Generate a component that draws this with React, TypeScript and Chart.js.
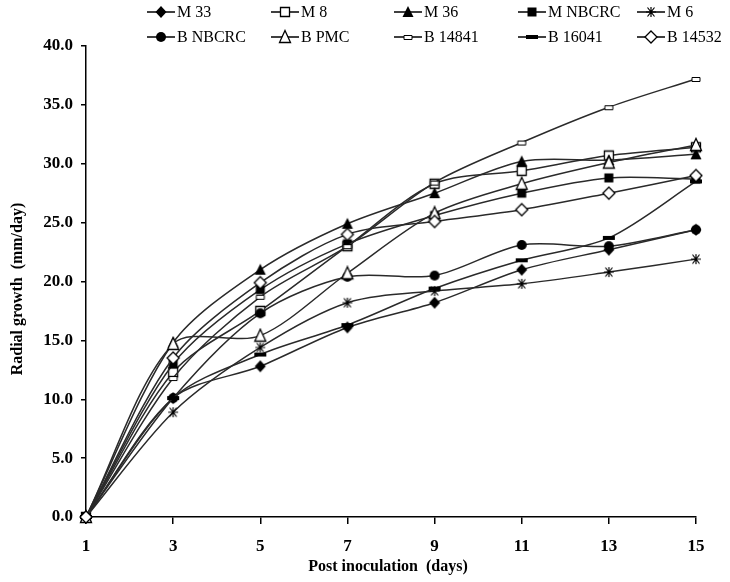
import React, { useEffect, useRef } from 'react';
import { Chart, registerables } from 'chart.js';
Chart.register(...registerables);

const days = ['1', '3', '5', '7', '9', '11', '13', '15'];
const seriesNames = ['M 33', 'M 8', 'M 36', 'M NBCRC', 'M 6', 'B NBCRC', 'B PMC', 'B 14841', 'B 16041', 'B 14532'];
const m33 = [0, 10.1, 12.8, 16.1, 18.2, 21.0, 22.7, 24.4];
const m8 = [0, 12.3, 17.5, 23.0, 28.3, 29.4, 30.7, 31.4];
const m36 = [0, 14.8, 21.0, 24.9, 27.5, 30.2, 30.3, 30.8];
const mNbcrc = [0, 13.0, 19.3, 23.2, 25.6, 27.5, 28.8, 28.7];
const m6 = [0, 8.9, 14.4, 18.2, 19.2, 19.8, 20.8, 21.9];
const bNbcrc = [0, 10.1, 17.3, 20.4, 20.5, 23.1, 23.0, 24.4];
const bPmc = [0, 14.7, 15.4, 20.7, 25.8, 28.3, 30.1, 31.6];
const b14841 = [0, 11.8, 18.7, 23.0, 28.4, 31.8, 34.8, 37.2];
const b16041 = [0, 10.1, 13.8, 16.3, 19.4, 21.8, 23.7, 28.5];
const b14532 = [0, 13.5, 19.9, 24.0, 25.1, 26.1, 27.5, 29.0];
const markerKinds = ['diamondFilled', 'squareOpen', 'triangleFilled', 'squareFilled', 'star', 'circleFilled', 'triangleOpen', 'smallRect', 'thickDash', 'diamondOpen'];
const allSeries = [m33, m8, m36, mNbcrc, m6, bNbcrc, bPmc, b14841, b16041, b14532];

const FONT = '"Liberation Serif", "Times New Roman", serif';

function makeMarker(kind: string): HTMLCanvasElement {
  const c = document.createElement('canvas');
  c.width = 16;
  c.height = 16;
  const g = c.getContext('2d')!;
  g.lineWidth = 1.3;
  g.strokeStyle = '#000';
  g.fillStyle = '#000';
  const cx = 8, cy = 8;
  g.beginPath();
  switch (kind) {
    case 'diamondFilled':
      g.moveTo(cx, cy - 6); g.lineTo(cx + 5.5, cy); g.lineTo(cx, cy + 6); g.lineTo(cx - 5.5, cy); g.closePath();
      g.fill();
      break;
    case 'diamondOpen':
      g.moveTo(cx, cy - 6); g.lineTo(cx + 6, cy); g.lineTo(cx, cy + 6); g.lineTo(cx - 6, cy); g.closePath();
      g.fillStyle = '#fff'; g.fill(); g.stroke();
      break;
    case 'squareOpen':
      g.rect(cx - 4.5, cy - 4.5, 9, 9);
      g.fillStyle = '#fff'; g.fill(); g.stroke();
      break;
    case 'squareFilled':
      g.rect(cx - 4.5, cy - 4.5, 9, 9);
      g.fill();
      break;
    case 'triangleFilled':
      g.moveTo(cx, cy - 6); g.lineTo(cx + 5.5, cy + 5); g.lineTo(cx - 5.5, cy + 5); g.closePath();
      g.fill();
      break;
    case 'triangleOpen':
      g.moveTo(cx, cy - 6.5); g.lineTo(cx + 5.5, cy + 5.5); g.lineTo(cx - 5.5, cy + 5.5); g.closePath();
      g.fillStyle = '#fff'; g.fill(); g.stroke();
      break;
    case 'circleFilled':
      g.arc(cx, cy, 5, 0, Math.PI * 2);
      g.fill();
      break;
    case 'star':
      g.lineWidth = 1.2;
      g.moveTo(cx - 5, cy); g.lineTo(cx + 5, cy);
      g.moveTo(cx - 3.5, cy - 4.5); g.lineTo(cx + 3.5, cy + 4.5);
      g.moveTo(cx + 3.5, cy - 4.5); g.lineTo(cx - 3.5, cy + 4.5);
      g.moveTo(cx, cy - 5); g.lineTo(cx, cy + 5);
      g.stroke();
      break;
    case 'smallRect':
      g.lineWidth = 1;
      g.rect(cx - 4, cy - 1.5, 8, 4);
      g.fillStyle = '#fff'; g.fill(); g.stroke();
      break;
    case 'thickDash':
      g.rect(cx - 6, cy - 2, 12, 4);
      g.fill();
      break;
  }
  return c;
}

export default function App() {
  const ref = useRef<HTMLCanvasElement | null>(null);
  useEffect(() => {
    if (!ref.current) return;
    const markers = markerKinds.map(makeMarker);
    const overlay = {
      id: 'overlay',
      afterDraw(chart: any) {
        const ctx = chart.ctx as CanvasRenderingContext2D;
        ctx.save();
        const xs = [147, 271, 394, 518, 637];
        const ys = [12, 37];
        ctx.font = `16px ${FONT}`;
        ctx.textBaseline = 'middle';
        ctx.textAlign = 'left';
        seriesNames.forEach((name, i) => {
          const x0 = xs[i % 5];
          const y = ys[Math.floor(i / 5)];
          ctx.strokeStyle = '#000';
          ctx.lineWidth = 1.5;
          ctx.beginPath();
          ctx.moveTo(x0, y);
          ctx.lineTo(x0 + 28, y);
          ctx.stroke();
          const m = markers[i];
          ctx.drawImage(m, x0 + 14 - m.width / 2, y - m.height / 2);
          ctx.fillStyle = '#000';
          ctx.fillText(name, x0 + 30, y + 1);
        });
        ctx.font = `bold 16px ${FONT}`;
        ctx.textAlign = 'center';
        ctx.fillText('Post inoculation  (days)', 388, 567);
        ctx.translate(18, 289);
        ctx.rotate(-Math.PI / 2);
        ctx.fillText('Radial growth  (mm/day)', 0, 0);
        ctx.restore();
      },
    };
    const tickFont = { family: FONT, size: 17, weight: 'bold' as const };
    const chart = new Chart(ref.current, {
      type: 'line',
      data: {
        labels: days,
        datasets: allSeries.map((d, i) => ({
          label: seriesNames[i],
          data: d,
          borderColor: '#2a2a2a',
          borderWidth: 1.5,
          pointStyle: markers[i] as any,
          pointRadius: 6,
          tension: 0.3,
          fill: false,
          clip: false as any,
          order: 10 - i,
        })),
      },
      options: {
        responsive: false,
        animation: false,
        events: [],
        layout: { padding: { left: 0, top: 46, right: 34, bottom: 0 } },
        plugins: { legend: { display: false }, tooltip: { enabled: false }, title: { display: false } },
        scales: {
          x: {
            type: 'category',
            offset: false,
            grid: { display: true, drawOnChartArea: false, drawTicks: true, tickLength: 7, color: '#000', lineWidth: 1.5 },
            border: { display: true, color: '#000', width: 1.5 },
            ticks: { color: '#000', font: tickFont, padding: 12, maxRotation: 0, autoSkip: false },
            afterFit: (s: any) => { s.height = 65; },
          },
          y: {
            min: 0,
            max: 40,
            grid: { display: true, drawOnChartArea: false, drawTicks: true, tickLength: 5, color: '#000', lineWidth: 1.5 },
            border: { display: true, color: '#000', width: 1.5 },
            ticks: { stepSize: 5, color: '#000', font: tickFont, padding: 8, callback: (v: any) => Number(v).toFixed(1) },
            afterFit: (s: any) => { s.width = 86; },
          },
        },
      },
      plugins: [overlay],
    });
    return () => chart.destroy();
  }, []);
  return (
    <div style={{ position: 'absolute', left: 0, top: 0, width: 730, height: 582, background: '#fff' }}>
      <canvas ref={ref} width={730} height={582} />
    </div>
  );
}
